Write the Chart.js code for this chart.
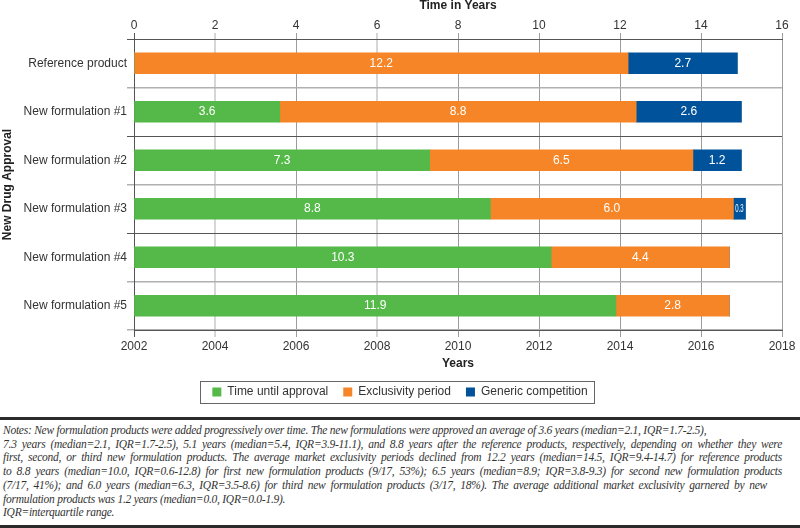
<!DOCTYPE html>
<html>
<head>
<meta charset="utf-8">
<script src="https://cdn.jsdelivr.net/npm/chart.js@4.4.0/dist/chart.umd.min.js"></script>
<style>
  html, body { margin: 0; padding: 0; background: #fff; }
  body { width: 800px; height: 528px; position: relative; overflow: hidden; }
  #wrap { position: absolute; left: 0; top: 0; width: 800px; height: 408px; }
  #notes {
    position: absolute; left: 0; top: 417px; width: 800px; height: 111px;
    box-sizing: border-box; background: #fff;
    border-top: 3px solid #2b2b2b; border-bottom: 3px solid #2b2b2b;
    padding: 4px 18px 0 3px;
    font-family: "Liberation Serif", "DejaVu Serif", serif; font-style: italic;
    font-size: 11.5px; letter-spacing: -0.25px; line-height: 13.7px; color: #333;
  }
  #notes .j { text-align: justify; text-align-last: justify; }
  #notes .j5 { width: 764px; text-align: justify; text-align-last: justify; }
</style>
</head>
<body>
<div id="wrap"><canvas id="chart"></canvas></div>
<div id="notes">
  <div>Notes: New formulation products were added progressively over time. The new formulations were approved an average of 3.6 years (median=2.1, IQR=1.7-2.5),</div>
  <div class="j">7.3 years (median=2.1, IQR=1.7-2.5), 5.1 years (median=5.4, IQR=3.9-11.1), and 8.8 years after the reference products, respectively, depending on whether they were</div>
  <div class="j">first, second, or third new formulation products. The average market exclusivity periods declined from 12.2 years (median=14.5, IQR=9.4-14.7) for reference products</div>
  <div class="j">to 8.8 years (median=10.0, IQR=0.6-12.8) for first new formulation products (9/17, 53%); 6.5 years (median=8.9; IQR=3.8-9.3) for second new formulation products</div>
  <div class="j5">(7/17, 41%); and 6.0 years (median=6.3, IQR=3.5-8.6) for third new formulation products (3/17, 18%). The average additional market exclusivity garnered by new</div>
  <div>formulation products was 1.2 years (median=0.0, IQR=0.0-1.9).</div>
  <div>IQR=interquartile range.</div>
</div>
<script>
const categories = [
  "Reference product",
  "New formulation #1",
  "New formulation #2",
  "New formulation #3",
  "New formulation #4",
  "New formulation #5"
];
const approvalYears = [0, 3.6, 7.3, 8.8, 10.3, 11.9];
const exclusivityYears = [12.2, 8.8, 6.5, 6.0, 4.4, 2.8];
const genericYears = [2.7, 2.6, 1.2, 0.3, 0, 0];
const seriesNames = ["Time until approval", "Exclusivity period", "Generic competition"];
const seriesColors = ["#54b948", "#f58526", "#00529b"];
const firstYear = 2002;
const lastYear = 2018;

Chart.defaults.font.family = '"Liberation Sans", Arial, sans-serif';
Chart.defaults.font.size = 12;
Chart.defaults.color = "#333";

// vertical grid: 2 and 6 years are drawn light and wide, like the original
function gridColor(step) {
  if (step === 0) return "#555";
  if (step === 2 || step === 6) return "#d6d6d6";
  return "#9c9c9c";
}
function gridWidth(step) {
  return (step === 2 || step === 6) ? 2 : 1;
}

const segmentLabels = {
  id: "segmentLabels",
  afterDatasetsDraw(chart) {
    const ctx = chart.ctx;
    chart.data.datasets.forEach((ds, i) => {
      const meta = chart.getDatasetMeta(i);
      meta.data.forEach((bar, j) => {
        const v = ds.data[j];
        if (!v) return;
        const p = bar.getProps(["x", "y", "base"], true);
        const cx = (p.x + p.base) / 2;
        ctx.save();
        ctx.fillStyle = "#fff";
        ctx.textAlign = "center";
        ctx.textBaseline = "middle";
        if (Math.abs(p.x - p.base) < 20) {
          ctx.font = '10px "Liberation Sans", Arial, sans-serif';
          ctx.translate(cx, p.y);
          ctx.scale(0.6, 1);
          ctx.fillText(v.toFixed(1), 0, 0);
        } else {
          ctx.font = '12px "Liberation Sans", Arial, sans-serif';
          ctx.fillText(v.toFixed(1), cx, p.y);
        }
        ctx.restore();
      });
    });
  }
};

const legendFrame = {
  id: "legendFrame",
  afterDraw(chart) {
    const boxes = chart.legend && chart.legend.legendHitBoxes;
    if (!boxes || !boxes.length) return;
    const ctx = chart.ctx;
    const first = boxes[0];
    const last = boxes[boxes.length - 1];
    const left = Math.round(first.left - 12);
    const right = Math.round(last.left + last.width + 6);
    const cy = first.top + first.height / 2;
    ctx.save();
    ctx.strokeStyle = "#666";
    ctx.lineWidth = 1;
    ctx.strokeRect(left + 0.5, Math.round(cy - 11) + 0.5, right - left, 22);
    ctx.restore();
  }
};

new Chart(document.getElementById("chart"), {
  type: "bar",
  data: {
    labels: categories,
    datasets: [
      { label: seriesNames[0], data: approvalYears, backgroundColor: seriesColors[0] },
      { label: seriesNames[1], data: exclusivityYears, backgroundColor: seriesColors[1] },
      { label: seriesNames[2], data: genericYears, backgroundColor: seriesColors[2] }
    ]
  },
  options: {
    indexAxis: "y",
    responsive: true,
    maintainAspectRatio: false,
    animation: false,
    layout: { padding: 0 },
    datasets: { bar: { barThickness: 21, borderWidth: 0 } },
    scales: {
      x: {
        type: "linear",
        position: "top",
        stacked: true,
        min: 0,
        max: 16,
        ticks: { stepSize: 2, padding: 0, color: "#333" },
        grid: {
          color: (c) => gridColor(c.tick ? c.tick.value : 0),
          lineWidth: (c) => gridWidth(c.tick ? c.tick.value : 0),
          tickLength: 6
        },
        border: { color: "#555" },
        title: {
          display: true, text: "Time in Years", color: "#222",
          font: { size: 12, weight: "bold" }, padding: { top: -2, bottom: 0 }
        },
        afterFit(s) { s.height = 39; }
      },
      x2: {
        type: "linear",
        position: "bottom",
        min: firstYear,
        max: lastYear,
        ticks: { stepSize: 2, padding: 2, color: "#333", callback: (v) => String(v) },
        grid: {
          drawOnChartArea: false,
          color: (c) => gridColor(c.tick ? c.tick.value - firstYear : 0),
          lineWidth: (c) => gridWidth(c.tick ? c.tick.value - firstYear : 0),
          tickLength: 7
        },
        border: { color: "#555" },
        title: {
          display: true, text: "Years", color: "#222",
          font: { size: 12, weight: "bold" }, padding: { top: 0, bottom: 0 }
        },
        afterFit(s) { s.height = 41; }
      },
      y: {
        type: "category",
        stacked: true,
        grid: {
          offset: true,
          color: (c) => (c.index % 2 === 0 ? "#555" : "#b0b0b0"),
          lineWidth: (c) => (c.index % 2 === 0 ? 1 : 1.5),
          tickLength: 7
        },
        border: { color: "#555" },
        ticks: { padding: 0, color: "#333" },
        title: {
          display: true, text: "New Drug Approval", color: "#222",
          font: { size: 12, weight: "bold" }, padding: { top: 0, bottom: 0 }
        },
        afterFit(s) { s.width = 134; }
      },
      // empty right-hand margin so the legend stays centred on the page
      margin: {
        type: "category",
        position: "right",
        grid: { display: false },
        border: { display: false },
        ticks: { display: false },
        afterFit(s) { s.width = 18; }
      }
    },
    plugins: {
      legend: {
        position: "bottom",
        labels: { boxWidth: 9, boxHeight: 9, padding: 15, color: "#333", font: { size: 12 } }
      },
      tooltip: { enabled: false }
    }
  },
  plugins: [segmentLabels, legendFrame]
});
</script>
</body>
</html>
